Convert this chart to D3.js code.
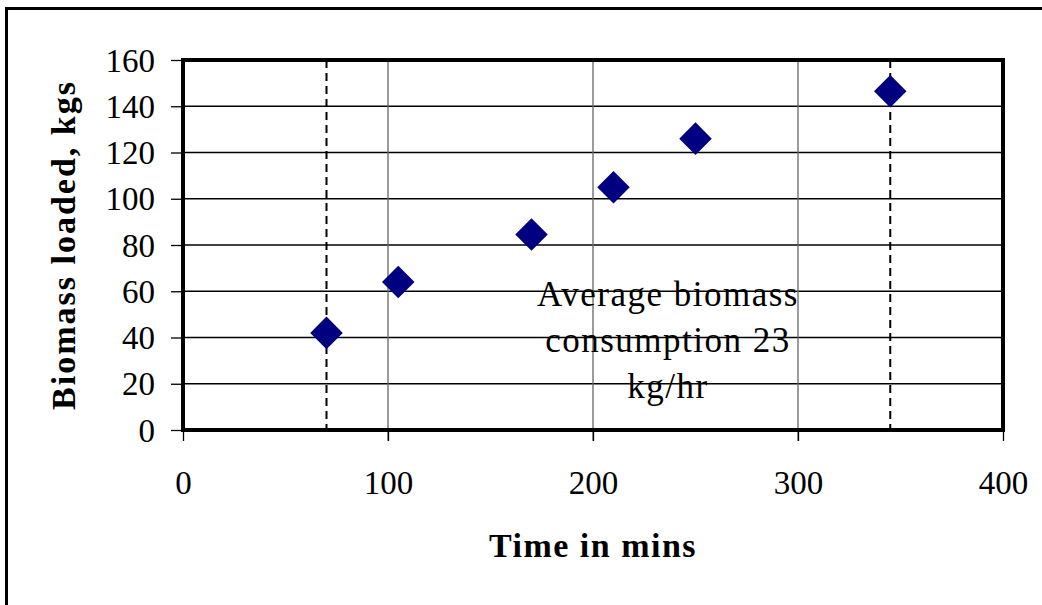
<!DOCTYPE html>
<html>
<head>
<meta charset="utf-8">
<script src="https://cdn.jsdelivr.net/npm/d3@7"></script>
<style>
  body { margin: 0; background: #fff; }
  svg { display: block; font-family: "Liberation Serif", "DejaVu Serif", serif; }
</style>
</head>
<body>
<svg width="1042" height="605"></svg>
<script>
// data
timeMins = [70, 105, 170, 210, 250, 345]
biomassKg = [42, 64, 84.5, 105, 126, 146.5]
markerTimes = [70, 345]   // dashed vertical lines
xTicks = [0, 100, 200, 300, 400]
yTicks = [0, 20, 40, 60, 80, 100, 120, 140, 160]
noteLines = ['Average biomass', 'consumption 23', 'kg/hr']

let svg = d3.select('svg')
let m = {left: 183, top: 60, right: 1003, bottom: 430}

// outer frame (runs off the right / bottom edge)
svg.append('path')
    .attr('d', 'M6.5,1100 V8.5 H1100')
    .style('fill', 'none').style('stroke', '#000').style('stroke-width', 3)

let x = d3.scaleLinear().domain([0, 400]).range([m.left, m.right])
let y = d3.scaleLinear().domain([0, 160]).range([m.bottom, m.top])

// horizontal gridlines
svg.append('g').selectAll('line').data(yTicks.slice(1, -1)).enter().append('line')
    .attr('x1', m.left).attr('x2', m.right)
    .attr('y1', d => y(d)).attr('y2', d => y(d))
    .style('stroke', '#000').style('stroke-width', 1.3)

// vertical gridlines (grey)
svg.append('g').selectAll('line').data(xTicks.slice(1, -1)).enter().append('line')
    .attr('x1', d => x(d)).attr('x2', d => x(d))
    .attr('y1', m.top).attr('y2', m.bottom + 11)
    .style('stroke', '#666').style('stroke-width', 1.3)

// dashed markers
svg.append('g').selectAll('line').data(markerTimes).enter().append('line')
    .attr('x1', d => x(d)).attr('x2', d => x(d))
    .attr('y1', m.top).attr('y2', m.bottom)
    .style('stroke', '#000').style('stroke-width', 2)
    .style('stroke-dasharray', '8,5')

// axes
let xAxis = svg.append('g').attr('transform', `translate(0,${m.bottom})`)
    .call(d3.axisBottom(x).tickValues(xTicks).tickSize(11).tickPadding(30))
let yAxis = svg.append('g').attr('transform', `translate(${m.left},0)`)
    .call(d3.axisLeft(y).tickValues(yTicks).tickSize(12).tickPadding(16))
;[xAxis, yAxis].forEach(a => {
    a.select('.domain').remove()
    a.selectAll('line').style('stroke', '#000').style('stroke-width', 1.3)
    a.selectAll('text').style('font-family', '"Liberation Serif", serif')
        .style('font-size', '33px').style('fill', '#000')
})
yAxis.selectAll('text').attr('dy', '0.34em')
xAxis.selectAll('text').attr('dy', '0.71em')

// plot border
svg.append('rect')
    .attr('x', m.left).attr('y', m.top)
    .attr('width', m.right - m.left).attr('height', m.bottom - m.top)
    .style('fill', 'none').style('stroke', '#000').style('stroke-width', 4)

// diamonds
let symbol = d3.symbol().type(d3.symbolSquare).size(23 * 23)
svg.append('g').selectAll('path').data(timeMins).enter().append('path')
    .attr('d', symbol)
    .attr('transform', (d, i) => `translate(${x(d)},${y(biomassKg[i])}) rotate(45)`)
    .style('fill', '#000080')

// annotation
svg.append('text')
    .attr('x', 668).attr('y', 306)
    .attr('text-anchor', 'middle')
    .style('font-size', '35px').style('letter-spacing', '1.5px')
    .selectAll('tspan').data(noteLines).enter().append('tspan')
    .attr('x', 668).attr('dy', (d, i) => i == 0 ? 0 : 46)
    .text(d => d)

// axis titles
svg.append('text')
    .attr('x', (m.left + m.right) / 2).attr('y', 557)
    .attr('text-anchor', 'middle')
    .style('font-size', '34px').style('font-weight', 'bold').style('letter-spacing', '1.5px')
    .text('Time in mins')

svg.append('text')
    .attr('transform', `translate(75,${(m.top + m.bottom) / 2}) rotate(-90)`)
    .attr('text-anchor', 'middle')
    .style('font-size', '34px').style('font-weight', 'bold').style('letter-spacing', '2px')
    .text('Biomass loaded, kgs')
</script>
</body>
</html>
